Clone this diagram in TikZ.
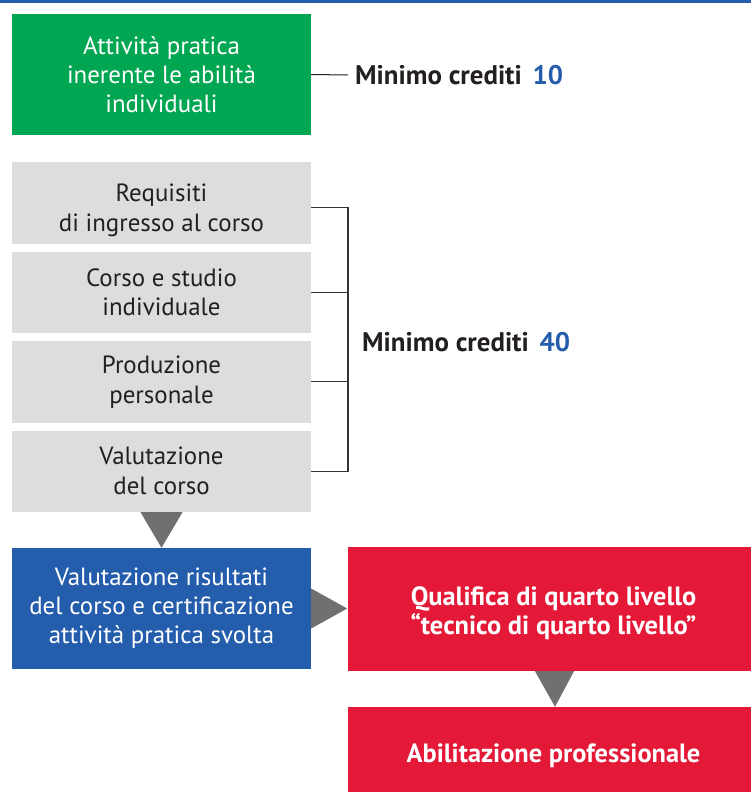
\documentclass[tikz,border=0pt]{standalone}
\usepackage{fontspec}
\setmainfont{PT Sans}
\usepackage{tikz}
\usetikzlibrary{calc}
\definecolor{verde}{RGB}{0,166,81}
\definecolor{grigio}{RGB}{220,221,222}
\definecolor{blu}{RGB}{36,93,171}
\definecolor{rosso}{RGB}{227,25,55}
\definecolor{freccia}{RGB}{112,112,113}
\definecolor{testo}{RGB}{35,31,32}

\begin{document}
\begin{tikzpicture}[x=1bp,y=-1bp,
    box/.style={rectangle,inner sep=0pt,align=center,minimum width=299bp,
      font=\fontsize{25}{30}\selectfont},
    grigiobox/.style={box,fill=grigio,text=testo,minimum height=81.5bp},
    redbox/.style={box,fill=rosso,text=white,minimum width=411bp,
      font=\fontsize{26.5}{29}\selectfont\bfseries},
    crediti/.style={inner sep=0pt,inner xsep=7bp,anchor=west,text=testo,
      font=\fontsize{27}{30}\selectfont\bfseries},
    tri/.style={fill=freccia}]
    \useasboundingbox (0,0) rectangle (751,792);
    \fill[blu] (0,0) rectangle (751,3);
    % blocchi di sinistra
    \node[box,fill=verde,text=white,minimum height=121bp,font=\fontsize{25}{29}\selectfont] (A) at (161.5,74.5) {Attività pratica\\inerente le abilità\\individuali};
    \node[grigiobox] (R) at (161.5,202.75) {\rule{0pt}{33bp}Requisiti\\di ingresso al corso};
    \node[grigiobox] (C) at (161.5,292.25) {Corso e studio\\individuale};
    \node[grigiobox] (P) at (161.5,381.75) {Produzione\\personale};
    \node[grigiobox] (V) at (161.5,471.25) {Valutazione\\del corso};
    \node[box,fill=blu,text=white,minimum height=121bp,font=\fontsize{25}{29}\selectfont] (VR) at (161.5,608.5) {Valutazione risultati\\del corso e certificazione\\attività pratica svolta};
    % blocchi di destra
    \node[redbox,minimum height=124bp] (Q) at (553.5,609) {\rule{0pt}{27bp}Qualifica di quarto livello\\“tecnico di quarto livello”};
    \node[redbox,minimum height=85bp] (AP) at (553.5,749.5) {\rule{0pt}{31bp}Abilitazione professionale};
    % crediti
    \node[crediti] (C10) at (348,75) {Minimo crediti\hspace{0.4em}\textcolor{blu}{10}};
    \node[crediti] (C40) at (355,342) {Minimo crediti\hspace{0.4em}\textcolor{blu}{40}};
    \draw[testo,line width=1bp] (A.east) -- (C10.west);
    \coordinate (b) at (348,0);
    \coordinate (r) at ($(R.east)+(0,4.5)$);
    \draw[testo!90,line width=1.2bp] (r) -- (r -| b) -- (V.east -| b) -- (V.east);
    \draw[testo!90,line width=1.2bp] (C.east) -- (C.east -| b);
    \draw[testo!90,line width=1.2bp] (P.east) -- (P.east -| b);
    % frecce
    \fill[tri] ($(V.south)+(-21,0)$) -- ($(V.south)+(21,0)$) -- (VR.north) -- cycle;
    \fill[tri] ($(VR.east)+(0,-20)$) -- ($(VR.east)+(0,20)$) -- ($(VR.east)+(36,0)$) -- cycle;
    \fill[tri] ($(Q.south)+(-18.5,0)$) -- ($(Q.south)+(20.5,0)$) -- ($(AP.north)+(1.5,0)$) -- cycle;
\end{tikzpicture}
\end{document}
